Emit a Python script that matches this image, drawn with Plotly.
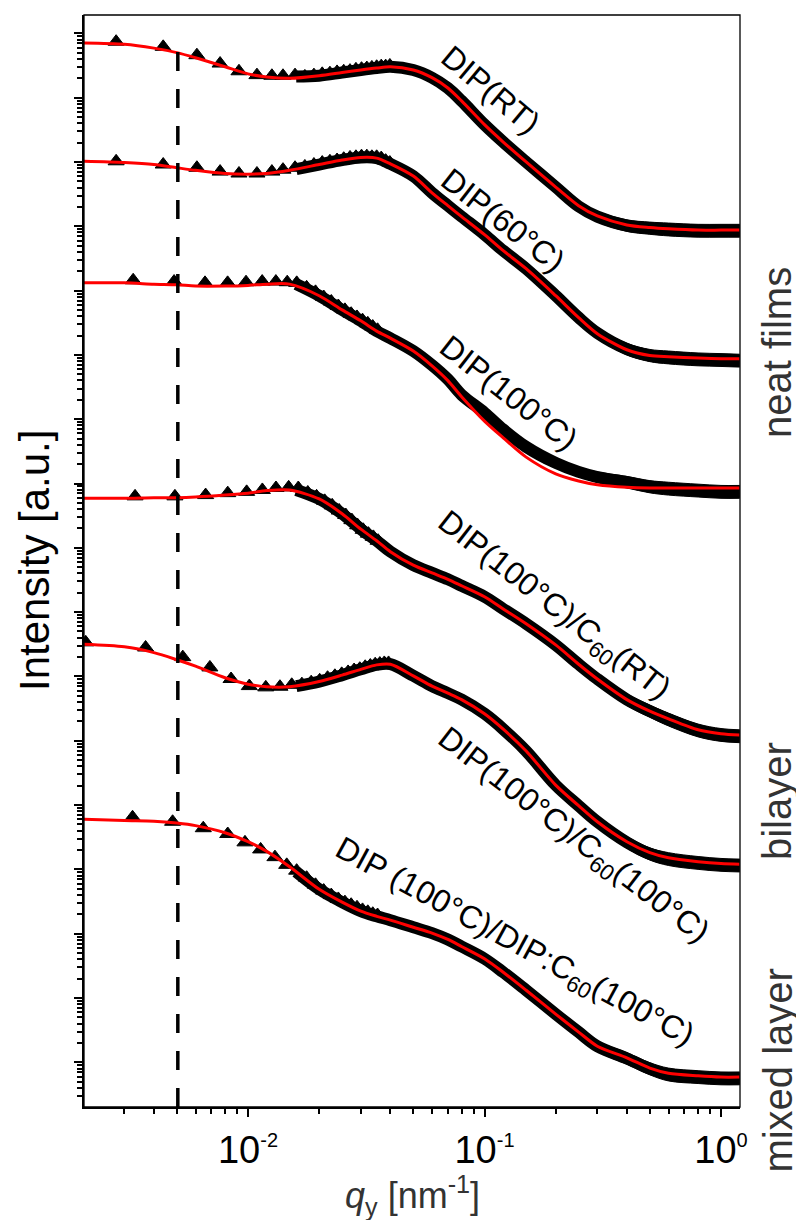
import numpy as np
import plotly.graph_objects as go

# ---------------- data ----------------
# q grid of the model fits [nm^-1]
q_fit = [0.002, 0.003, 0.004, 0.005, 0.006, 0.008, 0.01, 0.012, 0.015, 0.02,
         0.025, 0.03, 0.035, 0.04, 0.05, 0.06, 0.07, 0.08, 0.1, 0.12,
         0.15, 0.2, 0.25, 0.3, 0.4, 0.5, 0.6, 0.8, 1.0, 1.2]

# fits: log10(intensity, shifted for clarity)
fit_rt_log = [15.85, 15.83, 15.77, 15.70, 15.62, 15.48, 15.37, 15.32, 15.30, 15.34,
              15.39, 15.43, 15.46, 15.48, 15.43, 15.31, 15.15, 14.95, 14.58, 14.31,
              14.00, 13.61, 13.32, 13.16, 13.02, 12.98, 12.96, 12.94, 12.94, 12.94]
fit_60_log = [14.01, 13.99, 13.96, 13.91, 13.87, 13.82, 13.81, 13.82, 13.87, 13.96,
              14.03, 14.07, 14.06, 13.97, 13.78, 13.52, 13.32, 13.15, 12.87, 12.62,
              12.34, 11.92, 11.58, 11.33, 11.08, 10.99, 10.97, 10.95, 10.94, 10.94]
fit_100_log = [12.12, 12.12, 12.10, 12.09, 12.07, 12.07, 12.08, 12.10, 12.10, 11.92,
               11.70, 11.53, 11.37, 11.26, 11.06, 10.83, 10.60, 10.35, 9.97, 9.71,
               9.41, 9.15, 9.04, 8.98, 8.94, 8.93, 8.93, 8.93, 8.93, 8.93]
fit_bi_rt_log = [8.77, 8.77, 8.78, 8.78, 8.79, 8.82, 8.85, 8.89, 8.90, 8.76,
                 8.53, 8.29, 8.11, 7.94, 7.73, 7.61, 7.51, 7.41, 7.24, 7.05,
                 6.82, 6.49, 6.19, 5.96, 5.64, 5.46, 5.34, 5.17, 5.11, 5.09]
fit_bi_100_log = [6.50, 6.46, 6.37, 6.26, 6.16, 5.98, 5.88, 5.84, 5.84, 5.92,
                  6.02, 6.11, 6.18, 6.19, 6.01, 5.85, 5.74, 5.64, 5.42, 5.18,
                  4.84, 4.31, 3.99, 3.74, 3.43, 3.26, 3.18, 3.12, 3.09, 3.08]
fit_mix_log = [3.78, 3.76, 3.75, 3.72, 3.68, 3.57, 3.43, 3.28, 3.04, 2.69,
               2.49, 2.35, 2.27, 2.21, 2.10, 2.01, 1.91, 1.80, 1.61, 1.40,
               1.12, 0.75, 0.47, 0.25, 0.07, -0.09, -0.17, -0.21, -0.23, -0.23]

# individually visible measured points at low q (triangles)
q_pts_rt = [0.00277, 0.00438, 0.00608, 0.00762, 0.00916, 0.01091, 0.01262, 0.01406, 0.01581,
            0.0174, 0.0190, 0.0206, 0.0222, 0.0238, 0.0254, 0.0270, 0.0286, 0.0302, 0.0318,
            0.0334, 0.0350, 0.0366, 0.0382, 0.0398]
pts_rt_log = [15.87, 15.79, 15.66, 15.53, 15.41, 15.35, 15.34, 15.34, 15.35,
              15.33, 15.35, 15.37, 15.38, 15.40, 15.41, 15.42, 15.44, 15.45, 15.46,
              15.47, 15.48, 15.49, 15.49, 15.50]
q_pts_60 = [0.00277, 0.00438, 0.00608, 0.00762, 0.00916, 0.01091, 0.01262, 0.01406, 0.01581,
            0.0174, 0.0190, 0.0206, 0.0222, 0.0238, 0.0254, 0.0270, 0.0286, 0.0302, 0.0318,
            0.0334, 0.0350, 0.0366, 0.0382, 0.0398]
pts_60_log = [14.01, 13.96, 13.91, 13.85, 13.82, 13.82, 13.85, 13.88, 13.91,
              13.93, 13.96, 13.99, 14.01, 14.03, 14.05, 14.07, 14.08, 14.09, 14.09,
              14.08, 14.08, 14.06, 14.02, 13.99]
q_pts_100 = [0.00327, 0.00487, 0.00658, 0.00820, 0.00981, 0.01148, 0.01312, 0.01465, 0.01607,
             0.0177, 0.0193, 0.0209, 0.0225, 0.0241, 0.0257, 0.0273, 0.0289, 0.0305, 0.0321,
             0.0337, 0.0353]
pts_100_log = [12.16, 12.14, 12.12, 12.12, 12.13, 12.14, 12.14, 12.13, 12.12,
               12.05, 11.98, 11.90, 11.83, 11.76, 11.70, 11.64, 11.59, 11.54, 11.49,
               11.44, 11.39]
q_pts_bi_rt = [0.00333, 0.00491, 0.00662, 0.00821, 0.00987, 0.01150, 0.01313, 0.01486, 0.01632,
               0.0179, 0.0195, 0.0211, 0.0227, 0.0243, 0.0259, 0.0275, 0.0291, 0.0307, 0.0323,
               0.0339, 0.0355]
pts_bi_rt_log = [8.80, 8.80, 8.82, 8.85, 8.87, 8.90, 8.93, 8.94, 8.93,
                 8.86, 8.80, 8.73, 8.66, 8.58, 8.51, 8.43, 8.35, 8.28, 8.22,
                 8.17, 8.11]
q_pts_bi_100 = [0.00206, 0.00369, 0.00530, 0.00690, 0.00848, 0.01013, 0.01189, 0.01365, 0.01531,
                0.0169, 0.0185, 0.0201, 0.0217, 0.0233, 0.0249, 0.0265, 0.0281, 0.0297, 0.0313,
                0.0329, 0.0345, 0.0361, 0.0377, 0.0393]
pts_bi_100_log = [6.53, 6.45, 6.30, 6.14, 5.96, 5.85, 5.83, 5.84, 5.87,
                  5.88, 5.91, 5.94, 5.98, 6.01, 6.04, 6.07, 6.10, 6.12, 6.15,
                  6.17, 6.19, 6.20, 6.21, 6.21]
q_pts_mix = [0.00325, 0.00480, 0.00647, 0.00821, 0.00971, 0.01131, 0.01300, 0.01458, 0.01606,
             0.0177, 0.0193, 0.0209, 0.0225, 0.0241, 0.0257, 0.0273, 0.0289, 0.0305, 0.0321,
             0.0337, 0.0353]
pts_mix_log = [3.81, 3.74, 3.64, 3.55, 3.42, 3.31, 3.19, 3.07, 2.98,
               2.87, 2.76, 2.67, 2.60, 2.54, 2.49, 2.45, 2.41, 2.37, 2.34,
               2.31, 2.29]

# dense measured data (black band): centre of the band and its extra noise spread
q_band = [0.016, 0.02, 0.025, 0.03, 0.035, 0.04, 0.05, 0.06, 0.07, 0.08, 0.1,
          0.12, 0.15, 0.2, 0.25, 0.3, 0.4, 0.5, 0.6, 0.8, 1.0, 1.2]
band_rt_log = [15.33, 15.34, 15.39, 15.43, 15.46, 15.48, 15.43, 15.31, 15.15, 14.95, 14.58,
               14.31, 14.00, 13.61, 13.31, 13.15, 13.01, 12.97, 12.95, 12.93, 12.93, 12.93]
band_60_log = [13.89, 13.96, 14.03, 14.07, 14.06, 13.97, 13.78, 13.52, 13.32, 13.15, 12.87,
               12.62, 12.34, 11.92, 11.58, 11.34, 11.09, 10.99, 10.96, 10.93, 10.92, 10.91]
band_100_log = [12.10, 11.92, 11.70, 11.53, 11.37, 11.26, 11.06, 10.84, 10.62, 10.38, 10.10,
                9.84, 9.57, 9.32, 9.18, 9.10, 9.02, 8.95, 8.92, 8.89, 8.87, 8.87]
band_bi_rt_log = [8.90, 8.76, 8.53, 8.29, 8.11, 7.94, 7.73, 7.61, 7.51, 7.41, 7.24,
                  7.05, 6.82, 6.49, 6.19, 5.96, 5.64, 5.46, 5.33, 5.16, 5.09, 5.07]
band_bi_100_log = [5.85, 5.92, 6.02, 6.11, 6.18, 6.19, 6.01, 5.85, 5.74, 5.64, 5.42,
                   5.18, 4.84, 4.31, 3.99, 3.74, 3.42, 3.24, 3.16, 3.10, 3.07, 3.06]
band_mix_log = [2.96, 2.69, 2.49, 2.35, 2.27, 2.21, 2.10, 2.01, 1.91, 1.80, 1.61,
                1.40, 1.12, 0.75, 0.47, 0.25, 0.06, -0.10, -0.19, -0.23, -0.25, -0.25]
noise_log = [0.0, 0.0, 0.0, 0.0, 0.0, 0.0, 0.01, 0.015, 0.02, 0.025, 0.035,
             0.04, 0.05, 0.06, 0.07, 0.08, 0.09, 0.095, 0.1, 0.1, 0.1, 0.1]

q_marker = 0.00505  # dashed reference line

series = [
    ("DIP(RT)", q_pts_rt, pts_rt_log, band_rt_log, fit_rt_log),
    ("DIP(60°C)", q_pts_60, pts_60_log, band_60_log, fit_60_log),
    ("DIP(100°C)", q_pts_100, pts_100_log, band_100_log, fit_100_log),
    ("DIP(100°C)/C<sub>60</sub>(RT)", q_pts_bi_rt, pts_bi_rt_log, band_bi_rt_log, fit_bi_rt_log),
    ("DIP(100°C)/C<sub>60</sub>(100°C)", q_pts_bi_100, pts_bi_100_log, band_bi_100_log, fit_bi_100_log),
    ("DIP (100°C)/DIP:C<sub>60</sub>(100°C)", q_pts_mix, pts_mix_log, band_mix_log, fit_mix_log),
]

# label placement (paper coords) and rotation
label_pos = [(0.620, 0.931, 40), (0.638, 0.812, 38), (0.648, 0.654, 38),
             (0.715, 0.458, 38), (0.745, 0.248, 37.5), (0.656, 0.150, 28.5)]

FONT = "Liberation Sans, Arial, sans-serif"

fig = go.Figure()
noise = np.array(noise_log)
for name, qp, ip, band, fit in series:
    band = np.array(band)
    fig.add_trace(go.Scatter(x=q_band, y=10 ** (band - noise), mode="lines",
                             line=dict(color="black", width=1, shape="spline"),
                             showlegend=False, hoverinfo="skip"))
    fig.add_trace(go.Scatter(x=q_band, y=10 ** (band + noise), mode="lines", fill="tonexty",
                             fillcolor="black",
                             line=dict(color="black", width=1, shape="spline"),
                             showlegend=False, hoverinfo="skip"))
    fig.add_trace(go.Scatter(x=q_band, y=10 ** band, mode="lines",
                             line=dict(color="black", width=12, shape="spline"),
                             showlegend=False, name=name + " data"))
    fig.add_trace(go.Scatter(x=qp, y=10 ** np.array(ip), mode="markers",
                             marker=dict(symbol="triangle-up", size=14, color="black",
                                         line=dict(color="black", width=1)),
                             showlegend=False, name=name + " data"))
for name, qp, ip, band, fit in series:
    fig.add_trace(go.Scatter(x=q_fit, y=10 ** np.array(fit), mode="lines",
                             line=dict(color="red", width=3, shape="spline", smoothing=0.8),
                             showlegend=False, name=name + " fit"))

annotations = []
for (name, *_), (xp, yp, ang) in zip(series, label_pos):
    annotations.append(dict(text=name, x=xp, y=yp, xref="paper", yref="paper",
                            showarrow=False, textangle=ang, xanchor="center", yanchor="middle",
                            font=dict(family=FONT, size=32, color="black")))
for txt, yp in [("neat films", 0.6905), ("bilayer", 0.2802), ("mixed layer", 0.0334)]:
    annotations.append(dict(text=txt, x=1.0565, y=yp, xref="paper", yref="paper",
                            showarrow=False, textangle=-90, xanchor="center", yanchor="middle",
                            font=dict(family=FONT, size=40, color="#333333")))
# axis titles
annotations.append(dict(text="Intensity [a.u.]", x=-0.0762, y=0.5, xref="paper", yref="paper",
                        showarrow=False, textangle=-90, xanchor="center", yanchor="middle",
                        font=dict(family=FONT, size=42, color="black")))
annotations.append(dict(text="<i>q</i><sub>y</sub> [nm<sup>-1</sup>]", x=0.5, y=-0.0815,
                        xref="paper", yref="paper", showarrow=False,
                        xanchor="center", yanchor="middle",
                        font=dict(family=FONT, size=36, color="#333333")))

# the page body adds an 8 px margin: the figure is sized so the plot area
# lands at x 84..740, y 15..1107 of the 804x1220 window
fig.update_layout(
    width=796, height=1212,
    margin=dict(l=76, r=64, t=7, b=113),
    paper_bgcolor="white", plot_bgcolor="white",
    font=dict(family=FONT, color="black"),
    showlegend=False,
    annotations=annotations,
    shapes=[
        dict(type="line", xref="x", yref="paper", x0=q_marker, x1=q_marker, y0=0, y1=0.977,
             line=dict(color="black", width=3.5, dash="19px,18px")),
        dict(type="rect", xref="paper", yref="paper", x0=0, x1=1, y0=0, y1=1,
             line=dict(color="black", width=1.3)),
    ],
)
tick_q = [0.01, 0.1, 1.0]
tick_txt = ["10<sup><span style='font-size:20px'>-2</span></sup>",
            "10<sup><span style='font-size:20px'>-1</span></sup>",
            "10<sup><span style='font-size:20px'>0</span></sup>"]
fig.update_xaxes(
    type="log", range=[-2.6934, 0.0803], tickvals=tick_q, ticktext=tick_txt,
    automargin=False,
    showline=True, linecolor="black", linewidth=2, mirror=False,
    ticks="outside", ticklen=8, tickwidth=2, tickcolor="black",
    minor=dict(ticks="outside", ticklen=5, tickwidth=1.5, tickcolor="black", dtick="D1"),
    showgrid=False, zeroline=False,
    tickfont=dict(family=FONT, size=38, color="black"),
)
fig.update_yaxes(
    type="log", range=[-0.695, 16.285], dtick=1, showticklabels=False,
    automargin=False,
    showline=True, linecolor="black", linewidth=2, mirror=False,
    ticks="outside", ticklen=8, tickwidth=2, tickcolor="black",
    minor=dict(ticks="outside", ticklen=5, tickwidth=1.5, tickcolor="black", dtick="D1"),
    showgrid=False, zeroline=False,
)

fig.write_html("out.html")
